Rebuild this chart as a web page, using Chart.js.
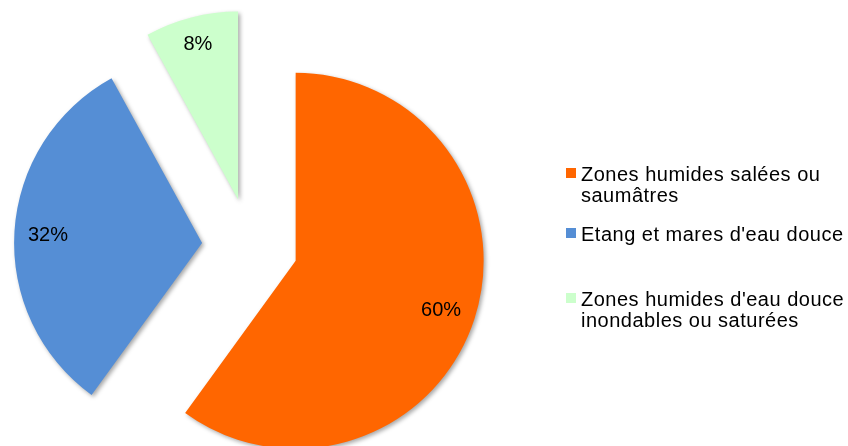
<!DOCTYPE html>
<html lang="fr">
<head>
<meta charset="utf-8">
<title>Types de zones humides</title>
<script src="https://cdn.jsdelivr.net/npm/chart.js@4.4.1/dist/chart.umd.min.js"></script>
<style>
  html, body { margin: 0; padding: 0; background: #fff; }
  #wetlandsChart { display: block; }
</style>
</head>
<body>
<canvas id="wetlandsChart" width="848" height="446"></canvas>
<script>
/* Zones humides – exploded pie with side legend */

const categories = [
  ["Zones humides salées ou", "saumâtres"],
  ["Etang et mares d'eau douce"],
  ["Zones humides d'eau douce", "inondables ou saturées"],
];
const shares = [60, 32, 8];
const sliceColors = ["#ff6600", "#558ed5", "#ccffcc"];

const FONT = '20px "Liberation Sans", Arial, sans-serif';
const EXPLODE = 48;
const LEGEND_X = 566;
const LEGEND_BASELINES = [181, 241, 306];
const LINE_HEIGHT = 21;

// pull every slice out from the centre and give it a soft shadow
const explodePlugin = {
  id: "explode",
  beforeDatasetDraw(chart, args) {
    const ctx = chart.ctx;
    args.meta.data.forEach((arc) => {
      const mid = (arc.startAngle + arc.endAngle) / 2;
      ctx.save();
      ctx.translate(Math.cos(mid) * EXPLODE, Math.sin(mid) * EXPLODE);
      ctx.shadowColor = "rgba(0, 0, 0, 0.35)";
      ctx.shadowBlur = 4;
      ctx.shadowOffsetX = 2;
      ctx.shadowOffsetY = 2;
      arc.draw(ctx);
      ctx.restore();
    });
    return false;
  },
};

// percentage labels, kept just inside the rim of each slice
const sliceLabelPlugin = {
  id: "sliceLabels",
  afterDatasetsDraw(chart) {
    const ctx = chart.ctx;
    const meta = chart.getDatasetMeta(0);
    const values = chart.data.datasets[0].data;
    ctx.save();
    ctx.font = FONT;
    ctx.fillStyle = "#000";
    ctx.textAlign = "center";
    ctx.textBaseline = "middle";
    meta.data.forEach((arc, i) => {
      const text = values[i] + "%";
      const mid = (arc.startAngle + arc.endAngle) / 2;
      const ux = Math.cos(mid);
      const uy = Math.sin(mid);
      const hw = ctx.measureText(text).width / 2;
      const hh = 10;
      const dist = EXPLODE + arc.outerRadius - 13 - (hw * Math.abs(ux) + hh * Math.abs(uy));
      ctx.fillText(text, arc.x + ux * dist, arc.y + uy * dist + 2);
    });
    ctx.restore();
  },
};

const legendPlugin = {
  id: "sideLegend",
  afterDraw(chart) {
    const ctx = chart.ctx;
    ctx.save();
    ctx.font = FONT;
    ctx.letterSpacing = "0.5px";
    ctx.textAlign = "left";
    ctx.textBaseline = "alphabetic";
    chart.data.labels.forEach((lines, i) => {
      const base = LEGEND_BASELINES[i];
      ctx.fillStyle = chart.data.datasets[0].backgroundColor[i];
      ctx.fillRect(LEGEND_X, base - 13, 10, 10);
      ctx.fillStyle = "#000";
      lines.forEach((line, j) => {
        ctx.fillText(line, LEGEND_X + 15, base + j * LINE_HEIGHT);
      });
    });
    ctx.restore();
  },
};

const chartInit = () => {
  const canvas = document.getElementById("wetlandsChart");
  new Chart(canvas, {
    type: "pie",
    data: {
      labels: categories,
      datasets: [
        {
          data: shares,
          backgroundColor: sliceColors,
          borderWidth: 0,
        },
      ],
    },
    options: {
      responsive: false,
      animation: false,
      events: [],
      radius: 188,
      layout: { padding: { left: 0, right: 348, top: 46, bottom: 0 } },
      plugins: {
        legend: { display: false },
        tooltip: { enabled: false },
      },
    },
    plugins: [explodePlugin, sliceLabelPlugin, legendPlugin],
  });
};

document.addEventListener("DOMContentLoaded", chartInit);
</script>
</body>
</html>
